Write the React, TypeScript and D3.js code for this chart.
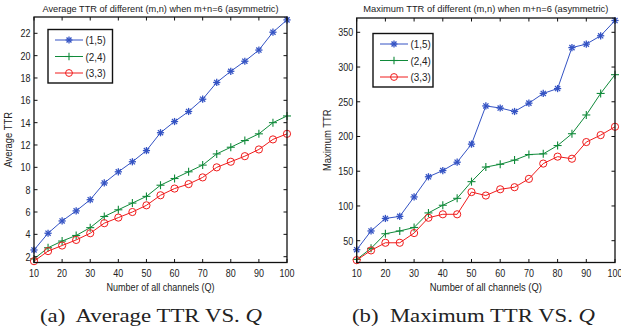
import React from "react";
import * as d3 from "d3";

const channels = [10, 15, 20, 25, 30, 35, 40, 45, 50, 55, 60, 65, 70, 75, 80, 85, 90, 95, 100];

const avg15 = [2.6, 4.1, 5.2, 6.1, 7.1, 8.6, 9.6, 10.5, 11.5, 13.1, 14.1, 15.0, 16.1, 17.6, 18.6, 19.5, 20.5, 22.1, 23.2];
const avg24 = [1.8, 2.8, 3.4, 3.9, 4.6, 5.6, 6.2, 6.8, 7.4, 8.4, 9.0, 9.6, 10.2, 11.2, 11.8, 12.4, 13.0, 14.0, 14.6];
const avg33 = [1.6, 2.5, 3.0, 3.5, 4.1, 5.0, 5.5, 6.0, 6.6, 7.5, 8.1, 8.5, 9.1, 10.0, 10.5, 11.0, 11.6, 12.5, 13.0];

const max15 = [37, 64, 82, 85, 113, 142, 151, 163, 189, 244, 241, 236, 248, 262, 269, 328, 333, 345, 367];
const max24 = [23, 39, 60, 64, 69, 90, 101, 111, 135, 156, 160, 166, 174, 175, 187, 204, 231, 262, 289];
const max33 = [22, 36, 47, 47, 61, 83, 88, 88, 120, 115, 124, 127, 139, 161, 171, 168, 192, 202, 214];

const seriesNames = ["(1,5)", "(2,4)", "(3,3)"];
const xTicks = [10, 20, 30, 40, 50, 60, 70, 80, 90, 100];
const avgTicks = [2, 4, 6, 8, 10, 12, 14, 16, 18, 20, 22];
const maxTicks = [50, 100, 150, 200, 250, 300, 350];

const COLORS = ["#3453c4", "#108a3a", "#f01c1c"];
const MARKERS = ["star", "plus", "circle"];
const SANS = "'Liberation Sans', Arial, sans-serif";
const SERIF = "'Liberation Serif', 'DejaVu Serif', serif";

function NText({
  x,
  y,
  sx = 0.78,
  size = 11.5,
  anchor = "start",
  children,
}: {
  x: number;
  y: number;
  sx?: number;
  size?: number;
  anchor?: string;
  children: React.ReactNode;
}) {
  return (
    <text
      transform={`translate(${x},${y}) scale(${sx},1)`}
      textAnchor={anchor as any}
      fontFamily={SANS}
      fontSize={size}
      fill="#222"
    >
      {children}
    </text>
  );
}

function Marker({ kind, x, y, color, size = 1 }: { kind: string; x: number; y: number; color: string; size?: number }) {
  if (kind === "circle") {
    return <circle cx={x} cy={y} r={3.6 * size} fill="none" stroke={color} strokeWidth={1} />;
  }
  if (kind === "plus") {
    const r = 4 * size;
    return (
      <g stroke={color} strokeWidth={1.1}>
        <line x1={x - r} y1={y} x2={x + r} y2={y} />
        <line x1={x} y1={y - r} x2={x} y2={y + r} />
      </g>
    );
  }
  const r = 3.6 * size;
  const d = r * 0.72;
  return (
    <g stroke={color} strokeWidth={1.3}>
      <line x1={x - r} y1={y} x2={x + r} y2={y} />
      <line x1={x} y1={y - r} x2={x} y2={y + r} />
      <line x1={x - d} y1={y - d} x2={x + d} y2={y + d} />
      <line x1={x - d} y1={y + d} x2={x + d} y2={y - d} />
    </g>
  );
}

type PanelProps = {
  left: number;
  right: number;
  top: number;
  bottom: number;
  yDomain: [number, number];
  yTicks: number[];
  series: number[][];
  title: string;
  titleLen: number;
  ylabel: string;
  ylabelX: number;
  xlabelLen: number;
  legend: { x0: number; y0: number; x1: number; y1: number };
  caption: string;
  captionX: number;
  captionLen: number;
};

function Panel(p: PanelProps) {
  const x = d3.scaleLinear().domain([10, 100]).range([p.left, p.right]);
  const y = d3.scaleLinear().domain(p.yDomain).range([p.bottom, p.top]);
  const line = d3
    .line<number>()
    .x((_, i) => x(channels[i]))
    .y((v) => y(v));
  const tk = 3.5;
  const cx = (p.left + p.right) / 2;
  const lg = p.legend;
  return (
    <g>
      <text
        x={cx}
        y={11.5}
        textAnchor="middle"
        fontFamily={SANS}
        fontSize={9.6}
        fill="#222"
        textLength={p.titleLen}
        lengthAdjust="spacingAndGlyphs"
      >
        {p.title}
      </text>
      {p.series.map((vals, si) => (
        <g key={si}>
          <path d={line(vals) || ""} fill="none" stroke={COLORS[si]} strokeWidth={1} />
          {vals.map((v, i) => (
            <Marker key={i} kind={MARKERS[si]} x={x(channels[i])} y={y(v)} color={COLORS[si]} />
          ))}
        </g>
      ))}
      <rect x={p.left} y={p.top} width={p.right - p.left} height={p.bottom - p.top} fill="none" stroke="#111" strokeWidth={1.3} />
      {xTicks.map((t) => (
        <g key={"x" + t}>
          <line x1={x(t)} x2={x(t)} y1={p.bottom} y2={p.bottom - tk} stroke="#111" strokeWidth={1} />
          <line x1={x(t)} x2={x(t)} y1={p.top} y2={p.top + tk} stroke="#111" strokeWidth={1} />
          <NText x={x(t)} y={276.5} anchor="middle">
            {t}
          </NText>
        </g>
      ))}
      {p.yTicks.map((t) => (
        <g key={"y" + t}>
          <line x1={p.left} x2={p.left + tk} y1={y(t)} y2={y(t)} stroke="#111" strokeWidth={1} />
          <line x1={p.right} x2={p.right - tk} y1={y(t)} y2={y(t)} stroke="#111" strokeWidth={1} />
          <NText x={p.left - 3.5} y={y(t) + 4} anchor="end">
            {t}
          </NText>
        </g>
      ))}
      <text
        x={cx}
        y={290.5}
        textAnchor="middle"
        fontFamily={SANS}
        fontSize={10.5}
        fill="#222"
        textLength={p.xlabelLen}
        lengthAdjust="spacingAndGlyphs"
      >
        Number of all channels (Q)
      </text>
      <text
        transform={`translate(${p.ylabelX},${(p.top + p.bottom) / 2}) rotate(-90) scale(0.9,1)`}
        textAnchor="middle"
        fontFamily={SANS}
        fontSize={10.5}
        fill="#222"
      >
        {p.ylabel}
      </text>
      <rect x={lg.x0} y={lg.y0} width={lg.x1 - lg.x0} height={lg.y1 - lg.y0} fill="#fff" stroke="#111" strokeWidth={1.4} />
      {seriesNames.map((n, si) => {
        const yy = lg.y0 + 10.5 + si * 16.5;
        const lx0 = lg.x0 + 7;
        const lx1 = lx0 + 28;
        return (
          <g key={n}>
            <line x1={lx0} x2={lx1} y1={yy} y2={yy} stroke={COLORS[si]} strokeWidth={1} />
            <Marker kind={MARKERS[si]} x={(lx0 + lx1) / 2} y={yy} color={COLORS[si]} size={0.95} />
            <NText x={lx1 + 2.5} y={yy + 4} sx={0.86} size={11.5}>
              {n}
            </NText>
          </g>
        );
      })}
      <text
        x={p.captionX}
        y={322}
        fontFamily={SERIF}
        fontSize={18}
        fill="#222"
        textLength={p.captionLen}
        lengthAdjust="spacingAndGlyphs"
      >
        {p.caption}
        <tspan fontStyle="italic">Q</tspan>
      </text>
    </g>
  );
}

export default function App() {
  return (
    <svg width={621} height={334} style={{ position: "absolute", left: 0, top: 0, background: "#fff" }}>
      <rect x={0} y={0} width={621} height={334} fill="#fff" />
      <Panel
        left={34}
        right={287}
        top={17}
        bottom={262.5}
        yDomain={[1.48, 23.46]}
        yTicks={avgTicks}
        series={[avg15, avg24, avg33]}
        title="Average TTR of different (m,n) when m+n=6 (asymmetric)"
        titleLen={236}
        ylabel="Average TTR"
        ylabelX={12}
        xlabelLen={108}
        legend={{ x0: 48, y0: 29.5, x1: 112.5, y1: 83 }}
        caption={"(a)\u00a0 Average TTR VS. "}
        captionX={40}
        captionLen={222}
      />
      <Panel
        left={356.7}
        right={615}
        top={18}
        bottom={262.5}
        yDomain={[18.6, 370.6]}
        yTicks={maxTicks}
        series={[max15, max24, max33]}
        title="Maximum TTR of different (m,n) when m+n=6 (asymmetric)"
        titleLen={245}
        ylabel="Maximum TTR"
        ylabelX={331}
        xlabelLen={112}
        legend={{ x0: 373, y0: 33.5, x1: 433, y1: 87 }}
        caption={"(b)\u00a0 Maximum TTR VS. "}
        captionX={352}
        captionLen={243}
      />
    </svg>
  );
}
